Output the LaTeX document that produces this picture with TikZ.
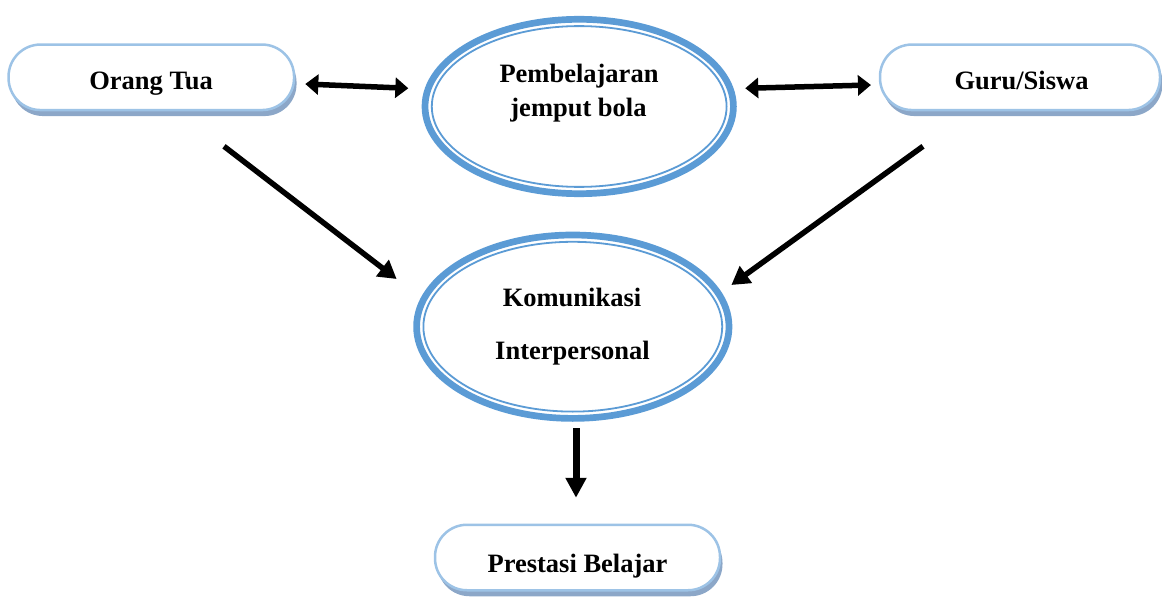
\documentclass[tikz,border=0pt]{standalone}
\usepackage{fontspec}
\setmainfont{Liberation Serif}
\usetikzlibrary{arrows.meta,shadows,calc,shapes.geometric}
\definecolor{ringblue}{HTML}{5B9BD5}
\definecolor{boxblue}{HTML}{9DC3E6}
\definecolor{shadowc}{HTML}{8CA7C8}
\begin{document}
\begin{tikzpicture}[x=1pt,y=-1pt,
  pill/.style={draw=boxblue, line width=2.5pt, fill=white, rounded corners=32pt,
    minimum height=65.5pt, inner sep=0pt,
    drop shadow={shadow xshift=2.5pt, shadow yshift=-6pt, fill=shadowc, opacity=1}},
  ring/.style={draw=ringblue, line width=6.7pt, ellipse, inner sep=0pt, fill=white},
  innerring/.style={draw=ringblue, line width=1.8pt},
  lbl/.style={font=\fontsize{26.5}{30}\selectfont\bfseries, inner sep=0pt, anchor=base},
  conn/.style={line width=5.5pt, -{Triangle[length=18pt,width=20pt]}},
  biconn/.style={line width=5.5pt, {Triangle[length=13pt,width=20pt]}-{Triangle[length=13pt,width=20pt]}}
]
\useasboundingbox (0,0) rectangle (1162,599);

% rounded boxes
\node[pill, minimum width=285.5pt] (ot) at (151.3,77.3) {};
\node[pill, minimum width=280pt] (gs) at (1020,77.3) {};
\node[pill, minimum width=285pt] (pr) at (577.5,557.5) {};

% ellipses
\node[ring, minimum width=308.4pt, minimum height=174.4pt] (pb) at (579.2,106.5) {};
\draw[innerring] (pb.center) ellipse [x radius=147.4, y radius=80.4];
\node[ring, minimum width=312.4pt, minimum height=183.4pt] (kom) at (572.8,326.7) {};
\draw[innerring] (kom.center) ellipse [x radius=149.4, y radius=84.9];

% labels
\node[lbl] (tot) at (151,89.5) {Orang Tua};
\node[lbl] (tgs) at (1021.5,89.5) {Guru/Siswa};
\node[lbl] (tpr) at (577.5,572) {Prestasi Belajar};
\node[lbl] (tpb1) at (579,83) {Pembelajaran};
\node[lbl] (tpb2) at (578.5,116.5) {jemput bola};
\node[lbl] (tk1) at (572,306) {Komunikasi};
\node[lbl] (tk2) at (572.5,359) {Interpersonal};

% connectors
\draw[biconn] ($(ot.east)+(10,6.7)$) -- ($(pb.west)+(-13.3,-18.2)$);
\draw[biconn] ($(pb.east)+(8.5,-18.2)$) -- ($(gs.west)+(-7.8,7.7)$);
\draw[conn] ($(ot.south)+(72.7,35)$) -- ($(kom.west)+(-16.6,-47.7)$);
\draw[conn] ($(gs.south)+(-97,35)$) -- ($(kom.east)+(-1,-41.7)$);
\draw[line width=7pt, -{Triangle[length=20pt,width=20pt]}] ($(kom.south)+(3.2,6.6)$) -- ($(pr.north)+(-1.5,-25.75)$);
\end{tikzpicture}
\end{document}
